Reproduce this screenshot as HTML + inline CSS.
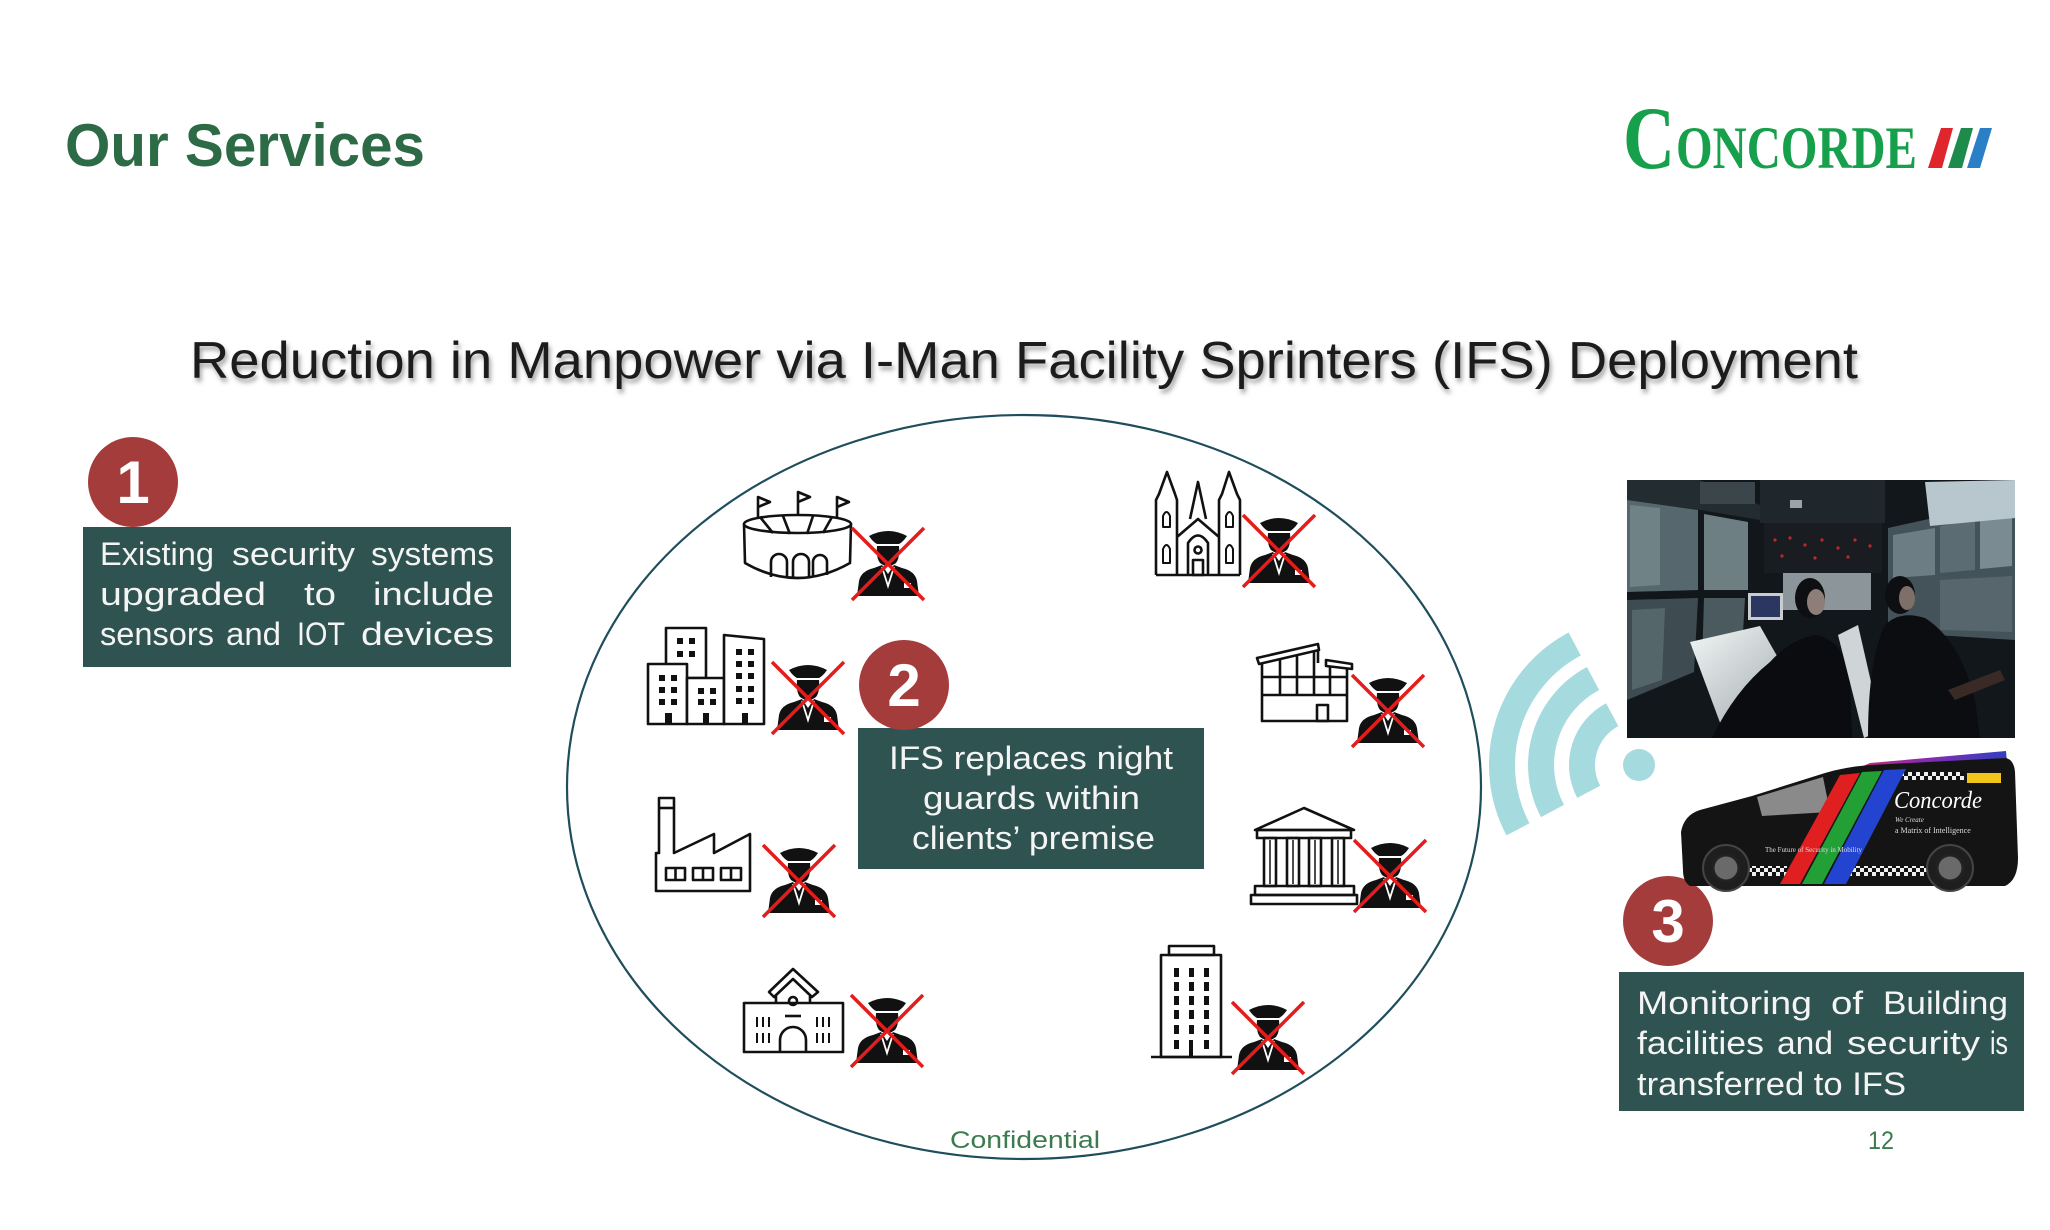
<!DOCTYPE html>
<html><head><meta charset="utf-8">
<style>
html,body{margin:0;padding:0;background:#fff;}
svg{display:block;}
text{font-family:"Liberation Sans",sans-serif;}
</style></head><body>
<svg width="2050" height="1230" viewBox="0 0 2050 1230" xmlns="http://www.w3.org/2000/svg">
<defs>
<filter id="sh" x="-5%" y="-40%" width="110%" height="180%">
<feDropShadow dx="2" dy="4" stdDeviation="2.5" flood-color="#555" flood-opacity="0.55"/>
</filter>
<pattern id="chk" width="8" height="8" patternUnits="userSpaceOnUse">
<rect width="8" height="8" fill="#111"/><rect width="4" height="4" fill="#eee"/><rect x="4" y="4" width="4" height="4" fill="#eee"/>
</pattern>
<linearGradient id="rb" x1="0" y1="0" x2="1" y2="0">
<stop offset="0" stop-color="#d0306a"/><stop offset="0.5" stop-color="#8a2ab0"/><stop offset="1" stop-color="#3040c0"/>
</linearGradient>
<linearGradient id="desk" x1="0" y1="0" x2="1" y2="1">
<stop offset="0" stop-color="#f2f6f6"/><stop offset="1" stop-color="#9aa4a6"/>
</linearGradient>
<clipPath id="pc"><rect x="1627" y="480" width="388" height="258"/></clipPath>
<g id="guard">
 <path d="M17 8 Q36 -2 55 8 Q51 14 47 16 L25 16 Q21 14 17 8Z" fill="#111"/>
 <path d="M25 18 L47 18 Q48 30 44 35 Q40 38 36 38 Q32 38 28 35 Q24 30 25 18Z" fill="#111"/>
 <path d="M5 68 L7 53 Q9 43 22 40 L30 37 L36 46 L42 37 L50 40 Q63 43 65 53 L67 68Z" fill="#111"/>
 <path d="M30 39 L36 58 L42 39" fill="none" stroke="#fff" stroke-width="1.8"/>
 <rect x="52" y="55" width="7" height="5" fill="#fff"/>
 <path d="M0 0 L72 72 M72 0 L0 72" stroke="#e31c1c" stroke-width="3.5"/>
</g>
</defs>

<!-- Header -->
<text x="65" y="166" font-size="60" font-weight="bold" fill="#2d6a46" textLength="360" lengthAdjust="spacingAndGlyphs">Our Services</text>

<!-- Logo -->
<text x="1623" y="168" font-weight="bold" font-size="89" fill="#17a04b" textLength="52" lengthAdjust="spacingAndGlyphs" style="font-family:'Liberation Serif',serif">C</text>
<text x="1676" y="168" font-weight="bold" font-size="60" fill="#17a04b" textLength="241" lengthAdjust="spacingAndGlyphs" style="font-family:'Liberation Serif',serif">ONCORDE</text>
<polygon points="1928,168 1942,168 1953,128 1941,128" fill="#e0262d"/>
<polygon points="1948,168 1962,168 1973,128 1961,128" fill="#1e8a4c"/>
<polygon points="1967,168 1980,168 1992,128 1980,128" fill="#2b7fc6"/>

<!-- Title -->
<text x="190" y="378" font-size="52" fill="#1a1a1a" filter="url(#sh)" textLength="1668" lengthAdjust="spacingAndGlyphs">Reduction in Manpower via I-Man Facility Sprinters (IFS) Deployment</text>

<!-- Ellipse -->
<ellipse cx="1024" cy="787" rx="457" ry="372" fill="none" stroke="#1e4d5c" stroke-width="2.2"/>

<!-- Box 1 -->
<rect x="83" y="527" width="428" height="140" fill="#2f5350"/>
<circle cx="133" cy="482" r="45" fill="#a43c3c"/>
<text x="133" y="503" font-size="60" font-weight="bold" fill="#fff" text-anchor="middle">1</text>
<g font-size="32" fill="#f4f4f4">
<text x="100" y="565" textLength="114" lengthAdjust="spacingAndGlyphs">Existing</text>
<text x="232" y="565" textLength="123" lengthAdjust="spacingAndGlyphs">security</text>
<text x="371" y="565" textLength="123" lengthAdjust="spacingAndGlyphs">systems</text>
<text x="100" y="605" textLength="166" lengthAdjust="spacingAndGlyphs">upgraded</text>
<text x="304" y="605" textLength="32" lengthAdjust="spacingAndGlyphs">to</text>
<text x="373" y="605" textLength="121" lengthAdjust="spacingAndGlyphs">include</text>
<text x="100" y="645" textLength="114" lengthAdjust="spacingAndGlyphs">sensors</text>
<text x="226" y="645" textLength="55" lengthAdjust="spacingAndGlyphs">and</text>
<text x="297" y="645" textLength="48" lengthAdjust="spacingAndGlyphs">IOT</text>
<text x="361" y="645" textLength="133" lengthAdjust="spacingAndGlyphs">devices</text>
</g>

<!-- Box 2 -->
<rect x="858" y="728" width="346" height="141" fill="#2f5350"/>
<circle cx="904" cy="685" r="45" fill="#a43c3c"/>
<text x="904" y="706" font-size="60" font-weight="bold" fill="#fff" text-anchor="middle">2</text>
<g font-size="32" fill="#f4f4f4">
<text x="889" y="769" textLength="284" lengthAdjust="spacingAndGlyphs">IFS replaces night</text>
<text x="923" y="809" textLength="217" lengthAdjust="spacingAndGlyphs">guards within</text>
<text x="912" y="849" textLength="243" lengthAdjust="spacingAndGlyphs">clients’ premise</text>
</g>

<!-- Box 3 -->
<rect x="1619" y="972" width="405" height="139" fill="#2f5350"/>
<circle cx="1668" cy="921" r="45" fill="#a43c3c"/>
<text x="1668" y="942" font-size="60" font-weight="bold" fill="#fff" text-anchor="middle">3</text>
<g font-size="32" fill="#f4f4f4">
<text x="1637" y="1014" textLength="175" lengthAdjust="spacingAndGlyphs">Monitoring</text>
<text x="1831" y="1014" textLength="32" lengthAdjust="spacingAndGlyphs">of</text>
<text x="1883" y="1014" textLength="125" lengthAdjust="spacingAndGlyphs">Building</text>
<text x="1637" y="1054" textLength="127" lengthAdjust="spacingAndGlyphs">facilities</text>
<text x="1777" y="1054" textLength="56" lengthAdjust="spacingAndGlyphs">and</text>
<text x="1847" y="1054" textLength="133" lengthAdjust="spacingAndGlyphs">security</text>
<text x="1990" y="1054" textLength="18" lengthAdjust="spacingAndGlyphs">is</text>
<text x="1637" y="1095" textLength="269" lengthAdjust="spacingAndGlyphs">transferred to IFS</text>
</g>

<!-- Footer -->
<text x="950" y="1148" font-size="24" fill="#3d7a4f" textLength="150" lengthAdjust="spacingAndGlyphs">Confidential</text>
<text x="1868" y="1149" font-size="25" fill="#3d7a4f" textLength="26" lengthAdjust="spacingAndGlyphs">12</text>

<!-- Icons -->
<g fill="none" stroke="#111" stroke-width="2.6" stroke-linejoin="round">
<!-- Stadium -->
<ellipse cx="797.5" cy="524" rx="53.5" ry="9"/>
<path d="M744 524 L745 563 Q797 593 850 563 L851 524"/>
<path d="M760 517 L773 533 M783 516 L790 534 M813 516 L807 534 M832 517 L823 533"/>
<path d="M771 577 L771 562 A8 8 0 0 1 787 562 L787 578 M793 578 L793 562 A8 8 0 0 1 809 562 L809 578 M813 577 L813 562 A7 7 0 0 1 827 562 L827 575"/>
<path d="M758 517 L758 497 L770 502 L758 507 M798 515 L798 492 L810 497 L798 502 M837 517 L837 497 L849 502 L837 507"/>

<!-- Buildings -->
<rect x="666" y="628" width="40" height="50" fill="#fff"/>
<rect x="648" y="664" width="39" height="60" fill="#fff"/>
<rect x="687" y="678" width="37" height="46" fill="#fff"/>
<path d="M724 724 L724 635 L764 639 L764 724 Z" fill="#fff"/>

<!-- Factory -->
<path d="M656 891 L656 853 L659 853 L659 798 L674 798 L674 853 L714 834 L714 853 L750 834 L750 891 Z"/>
<line x1="659" y1="808" x2="674" y2="808"/>
<rect x="666" y="868" width="19" height="12"/><line x1="675.5" y1="868" x2="675.5" y2="880"/>
<rect x="693" y="868" width="20" height="12"/><line x1="703" y1="868" x2="703" y2="880"/>
<rect x="721" y="868" width="20" height="12"/><line x1="731" y1="868" x2="731" y2="880"/>

<!-- School -->
<path d="M769 992 L793 969 L818 992 L812 997 L793 979 L774 997 Z"/>
<path d="M776 996 L776 1003 M810 996 L810 1003"/>
<rect x="744" y="1003" width="99" height="49"/>
<circle cx="793" cy="1001" r="4"/>
<line x1="785" y1="1016" x2="801" y2="1016"/>
<path d="M780 1052 L780 1040 A13 13 0 0 1 806 1040 L806 1052"/>
<path d="M757 1017 L757 1027 M763 1017 L763 1027 M769 1017 L769 1027 M757 1033 L757 1043 M763 1033 L763 1043 M769 1033 L769 1043 M817 1017 L817 1027 M823 1017 L823 1027 M829 1017 L829 1027 M817 1033 L817 1043 M823 1033 L823 1043 M829 1033 L829 1043" stroke-width="2"/>

<!-- Church -->
<path d="M1156 575 L1156 500 L1159 494 L1167 472 L1175 494 L1177 500 L1177 575 M1219 575 L1219 500 L1222 494 L1229 472 L1237 494 L1240 500 L1240 575 M1156 575 L1240 575 M1177 537 L1198 519 L1219 537 M1190 519 L1198 482 L1206 519 M1188 575 L1188 543 Q1198 528 1208 543 L1208 575"/>
<circle cx="1198" cy="550" r="3.5"/>
<rect x="1193" y="560" width="10" height="15"/>
<path d="M1163 527 L1163 516 Q1166.5 508 1170 516 L1170 527 Z M1163 563 L1163 549 Q1166.5 541 1170 549 L1170 563 Z M1226 527 L1226 516 Q1229.5 508 1233 516 L1233 527 Z M1226 563 L1226 549 Q1229.5 541 1233 549 L1233 563 Z" stroke-width="2"/>

<!-- Warehouse -->
<polygon points="1257,658 1318,644 1319,650 1259,664"/>
<path d="M1262 663 L1262 721 L1347 721 L1347 668 M1318 651 L1318 663"/>
<path d="M1280 660 L1280 695 M1297 656 L1297 695 M1314 652 L1314 695 M1330 666 L1330 695 M1262 677 L1347 677 M1262 695 L1347 695"/>
<polygon points="1326,660 1352,664 1352,669 1326,666"/>
<rect x="1317" y="705" width="11" height="16"/>

<!-- Museum -->
<path d="M1255 830 L1304 808 L1354 830 Z"/>
<rect x="1257" y="830" width="94" height="8"/>
<rect x="1264" y="838" width="12" height="48"/><line x1="1270" y1="840" x2="1270" y2="884" stroke-width="1.5"/>
<rect x="1287" y="838" width="12" height="48"/><line x1="1293" y1="840" x2="1293" y2="884" stroke-width="1.5"/>
<rect x="1309" y="838" width="12" height="48"/><line x1="1315" y1="840" x2="1315" y2="884" stroke-width="1.5"/>
<rect x="1332" y="838" width="12" height="48"/><line x1="1338" y1="840" x2="1338" y2="884" stroke-width="1.5"/>
<rect x="1255" y="886" width="99" height="9"/>
<rect x="1251" y="895" width="106" height="9"/>

<!-- Tall building -->
<rect x="1169" y="946" width="45" height="9"/>
<rect x="1161" y="955" width="60" height="102"/>
<line x1="1151" y1="1057" x2="1232" y2="1057"/>
</g>

<!-- filled windows -->
<g fill="#111">
<rect x="659" y="675" width="6" height="6"/><rect x="671" y="675" width="6" height="6"/>
<rect x="659" y="687" width="6" height="6"/><rect x="671" y="687" width="6" height="6"/>
<rect x="659" y="699" width="6" height="6"/><rect x="671" y="699" width="6" height="6"/>
<rect x="665" y="713" width="7" height="11"/>
<rect x="677" y="638" width="6" height="6"/><rect x="689" y="638" width="6" height="6"/>
<rect x="677" y="651" width="6" height="6"/><rect x="689" y="651" width="6" height="6"/>
<rect x="698" y="688" width="6" height="6"/><rect x="710" y="688" width="6" height="6"/>
<rect x="698" y="699" width="6" height="6"/><rect x="710" y="699" width="6" height="6"/>
<rect x="703" y="713" width="6" height="11"/>
<rect x="736" y="649" width="6" height="6"/><rect x="748" y="649" width="6" height="6"/>
<rect x="736" y="661" width="6" height="6"/><rect x="748" y="661" width="6" height="6"/>
<rect x="736" y="673" width="6" height="6"/><rect x="748" y="673" width="6" height="6"/>
<rect x="736" y="686" width="6" height="6"/><rect x="748" y="686" width="6" height="6"/>
<rect x="736" y="698" width="6" height="6"/><rect x="748" y="698" width="6" height="6"/>
<rect x="742" y="713" width="6" height="11"/>
<!-- tall building windows -->
<rect x="1174" y="968" width="5" height="9"/><rect x="1189" y="968" width="5" height="9"/><rect x="1204" y="968" width="5" height="9"/>
<rect x="1174" y="982" width="5" height="9"/><rect x="1189" y="982" width="5" height="9"/><rect x="1204" y="982" width="5" height="9"/>
<rect x="1174" y="996" width="5" height="9"/><rect x="1189" y="996" width="5" height="9"/><rect x="1204" y="996" width="5" height="9"/>
<rect x="1174" y="1010" width="5" height="9"/><rect x="1189" y="1010" width="5" height="9"/><rect x="1204" y="1010" width="5" height="9"/>
<rect x="1174" y="1025" width="5" height="9"/><rect x="1189" y="1025" width="5" height="9"/><rect x="1204" y="1025" width="5" height="9"/>
<rect x="1174" y="1040" width="5" height="9"/><rect x="1189" y="1040" width="4" height="17"/><rect x="1204" y="1040" width="5" height="9"/>
</g>

<!-- Guards -->
<use href="#guard" x="852" y="528"/>
<use href="#guard" x="772" y="662"/>
<use href="#guard" x="763" y="845"/>
<use href="#guard" x="851" y="995"/>
<use href="#guard" x="1243" y="515"/>
<use href="#guard" x="1352" y="675"/>
<use href="#guard" x="1354" y="840"/>
<use href="#guard" x="1232" y="1002"/>

<!-- WiFi -->
<g fill="none" stroke="#a5dbde" stroke-width="26">
<path d="M1612.2 714.7 A57 57 0 0 0 1588.7 791.8"/>
<path d="M1593 678.5 A98 98 0 0 0 1552.5 811"/>
<path d="M1574.7 644 A137 137 0 0 0 1518 829.3"/>
</g>
<circle cx="1639" cy="765" r="16" fill="#a5dbde"/>

<!-- Control room photo -->
<g clip-path="url(#pc)">
<rect x="1627" y="480" width="388" height="258" fill="#12171c"/>
<polygon points="1627,480 1700,480 1760,505 1760,520 1700,510 1627,500" fill="#232c31"/>
<polygon points="1627,500 1698,510 1698,590 1627,592" fill="#56686d"/>
<polygon points="1630,505 1660,508 1660,585 1630,587" fill="#6f8286"/>
<polygon points="1627,600 1698,598 1694,672 1627,700" fill="#3e4c52"/>
<polygon points="1632,610 1665,608 1662,680 1632,690" fill="#55666b"/>
<polygon points="1704,514 1748,522 1748,590 1704,590" fill="#6d7f83"/>
<polygon points="1704,598 1745,598 1742,650 1702,666" fill="#4b5a5e"/>
<rect x="1700" y="482" width="55" height="22" fill="#3a464c"/>
<rect x="1760" y="480" width="125" height="43" fill="#20272c"/>
<rect x="1790" y="500" width="12" height="8" fill="#9aa3a8"/>
<rect x="1764" y="523" width="118" height="50" fill="#191c21"/>
<g fill="#c0282a">
<circle cx="1775" cy="540" r="1.6"/><circle cx="1790" cy="538" r="1.6"/><circle cx="1805" cy="545" r="1.6"/><circle cx="1822" cy="540" r="1.6"/>
<circle cx="1838" cy="548" r="1.6"/><circle cx="1855" cy="540" r="1.6"/><circle cx="1870" cy="546" r="1.6"/><circle cx="1782" cy="556" r="1.6"/>
<circle cx="1815" cy="558" r="1.6"/><circle cx="1848" cy="557" r="1.6"/>
</g>
<rect x="1783" y="573" width="88" height="37" fill="#8c9599"/>
<polygon points="1888,528 2015,500 2015,640 1888,632" fill="#445259"/>
<polygon points="1893,535 1935,528 1935,575 1893,578" fill="#6c7d84"/>
<polygon points="1940,526 1975,520 1975,570 1940,573" fill="#5b6c73"/>
<polygon points="1980,518 2012,512 2012,566 1980,569" fill="#7a8b91"/>
<polygon points="1940,580 2012,576 2012,632 1940,630" fill="#56666c"/>
<polygon points="1925,482 2015,480 2015,518 1930,526" fill="#b8c7ce"/>
<polygon points="1690,642 1760,626 1802,700 1722,728" fill="url(#desk)"/>
<rect x="1748" y="593" width="35" height="27" fill="#c9cdd0"/>
<rect x="1751" y="596" width="29" height="21" fill="#2b3760"/>
<path d="M1712 738 Q1735 690 1770 662 Q1790 640 1815 635 Q1845 640 1850 680 L1852 738 Z" fill="#0a0c0f"/>
<ellipse cx="1810" cy="598" rx="15" ry="20" fill="#0d0f12"/>
<ellipse cx="1816" cy="602" rx="9" ry="13" fill="#8d7f78"/>
<polygon points="1838,635 1858,625 1882,730 1864,738" fill="#cfd4d6"/>
<path d="M1868 738 Q1868 660 1885 625 Q1900 610 1925 618 Q1960 640 1975 700 L1980 738 Z" fill="#0b0d10"/>
<ellipse cx="1900" cy="595" rx="15" ry="19" fill="#0d0f12"/>
<ellipse cx="1907" cy="598" rx="8" ry="12" fill="#7e6f68"/>
<path d="M1948 690 L2000 670 L2005 680 L1955 700 Z" fill="#3a2a26"/>
</g>

<!-- Van -->
<polygon points="1840,776 1870,763 2006,751 2008,774 1850,783" fill="url(#rb)"/>
<path d="M1683 870 L1681 832 Q1684 815 1700 810 L1752 796 L1825 773 Q1845 767 1870 765 L2006 758 Q2014 760 2015 772 L2018 858 Q2018 880 2005 886 L1690 886 Q1683 882 1683 870 Z" fill="#141414"/>
<polygon points="1757,797 1823,777 1830,812 1762,816" fill="#8a8a8a"/>
<rect x="1894" y="772" width="70" height="8" fill="url(#chk)"/>
<rect x="1967" y="773" width="34" height="10" fill="#f0c419"/>
<rect x="1745" y="866" width="42" height="10" fill="url(#chk)"/>
<rect x="1848" y="866" width="80" height="10" fill="url(#chk)"/>
<polygon points="1780,884 1800,884 1860,773 1840,775" fill="#e02020"/>
<polygon points="1802,884 1822,884 1882,771 1862,772" fill="#22a035"/>
<polygon points="1824,884 1846,884 1906,769 1884,770" fill="#2244d0"/>
<text x="1894" y="808" font-size="24" font-style="italic" fill="#fff" textLength="88" lengthAdjust="spacingAndGlyphs" style="font-family:'Liberation Serif',serif">Concorde</text>
<text x="1895" y="822" font-size="7" font-style="italic" fill="#ddd" style="font-family:'Liberation Serif',serif">We Create</text>
<text x="1895" y="833" font-size="8" fill="#ddd" style="font-family:'Liberation Serif',serif">a Matrix of Intelligence</text>
<text x="1765" y="852" font-size="7" fill="#ddd" style="font-family:'Liberation Serif',serif">The Future of Security in Mobility</text>
<circle cx="1726" cy="868" r="23" fill="#1e1e1e" stroke="#444" stroke-width="2"/>
<circle cx="1726" cy="868" r="13" fill="#6a6a6a" stroke="#222" stroke-width="3"/>
<circle cx="1950" cy="868" r="23" fill="#1e1e1e" stroke="#444" stroke-width="2"/>
<circle cx="1950" cy="868" r="13" fill="#6a6a6a" stroke="#222" stroke-width="3"/>
</svg>
</body></html>
